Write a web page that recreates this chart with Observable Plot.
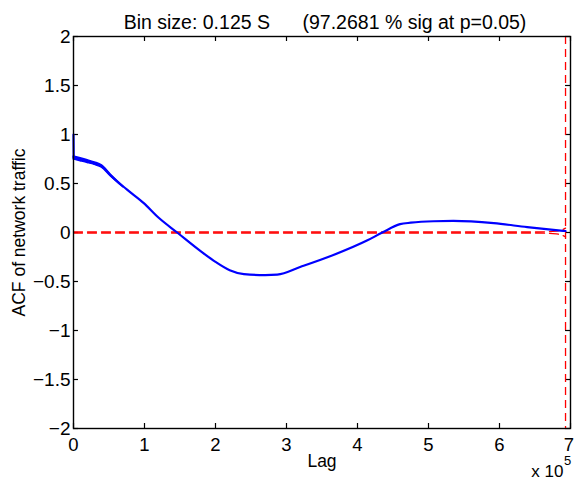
<!DOCTYPE html>
<html><head><meta charset="utf-8">
<script src="https://cdn.jsdelivr.net/npm/d3@7"></script>
<script src="https://cdn.jsdelivr.net/npm/@observablehq/plot@0.6"></script>
<style>body{margin:0;background:#fff} svg{white-space:pre}</style>
</head><body><div id="chart"></div>
<script>
// Lag in units of 10^5
const lag = [0, 0.003, 0.1, 0.2, 0.3, 0.4, 0.52, 0.75, 0.99, 1.2, 1.46, 1.79, 2.0, 2.2, 2.4, 2.7, 2.87, 3.2, 3.66, 4.14, 4.35, 4.6, 4.75, 5.07, 5.35, 5.92, 6.39, 6.86, 6.93];
const acf = [1.0, 0.765, 0.745, 0.725, 0.705, 0.675, 0.585, 0.44, 0.30, 0.15, 0.0, -0.19, -0.30, -0.385, -0.425, -0.435, -0.43, -0.35, -0.23, -0.08, 0.0, 0.085, 0.10, 0.115, 0.118, 0.095, 0.055, 0.02, 0.015];
// noisy thicker band near the start of the ACF
const bandLag = [0.003, 0.1, 0.2, 0.3, 0.4, 0.52, 0.7];
const bandHi = [0.775, 0.758, 0.738, 0.715, 0.685, 0.595, 0.47];
const bandLo = [0.745, 0.728, 0.71, 0.69, 0.662, 0.578, 0.462];
// significance bounds
const boundLag = [0, 6.5, 6.7, 6.8, 6.88, 6.93];
const boundHi = [0.005, 0.005, 0.008, 0.013, 0.025, 0.045];
const boundLo = [-0.005, -0.005, -0.008, -0.013, -0.025, -0.045];
const cutoffLag = [6.93];
const xTicks = [0, 1, 2, 3, 4, 5, 6, 7];
const yTicks = [-2, -1.5, -1, -0.5, 0, 0.5, 1, 1.5, 2];
const titleText = "Bin size: 0.125 S      (97.2681 % sig at p=0.05)";
const xLabel = "Lag";
const yLabel = "ACF of network traffic";
const xExp = "x 10";
const xExpPow = "5";

const series = lag.map((l, i) => ({lag: l, acf: acf[i]}));
const band = bandLag.map((l, i) => ({lag: l, hi: bandHi[i], lo: bandLo[i]}));
const hi = boundLag.map((l, i) => ({lag: l, v: boundHi[i]}));
const lo = boundLag.map((l, i) => ({lag: l, v: boundLo[i]}));
const fmt = d => (d < 0 ? "\u2212" : "") + Math.abs(d);
const xMax = xTicks[xTicks.length - 1];

const chart = Plot.plot({
  width: 574, height: 485,
  marginLeft: 73, marginRight: 4, marginTop: 36, marginBottom: 57,
  style: {fontFamily: "'Liberation Sans', Arial, sans-serif", fontSize: "18px", color: "black", background: "white"},
  x: {domain: [0, 7]},
  y: {domain: [-2, 2]},
  marks: [
    Plot.axisX({ticks: xTicks.slice(0, -1), tickSize: 0, tickPadding: 9, label: null, tickFormat: fmt, fontSize: 18.5}),
    Plot.axisX({ticks: [xMax], tickSize: 0, tickPadding: 9, label: null, tickFormat: fmt, fontSize: 18.5, dx: -1.5}),
    Plot.axisY({ticks: yTicks, tickSize: 0, tickPadding: 3, label: null, tickFormat: fmt, fontSize: 19}),
    Plot.ruleX(xTicks, {x: d => d, y1: -2, y2: -1.949, stroke: "black", strokeWidth: 1.2}),
    Plot.ruleX(xTicks, {x: d => d, y1: 2, y2: 1.949, stroke: "black", strokeWidth: 1.2}),
    Plot.ruleY(yTicks, {y: d => d, x1: 0, x2: 0.07, stroke: "black", strokeWidth: 1.2}),
    Plot.ruleY(yTicks, {y: d => d, x1: 7, x2: 6.93, stroke: "black", strokeWidth: 1.2}),
    Plot.line(hi, {x: "lag", y: "v", stroke: "#ff0000", strokeWidth: 1.3, strokeDasharray: "9,5"}),
    Plot.line(lo, {x: "lag", y: "v", stroke: "#ff0000", strokeWidth: 1.3, strokeDasharray: "9,5"}),
    Plot.ruleX(cutoffLag, {x: d => d, stroke: "#ff0000", strokeWidth: 1.3, strokeDasharray: "8,5"}),
    Plot.areaY(band, {x: "lag", y1: "lo", y2: "hi", fill: "#0000ff", stroke: "#0000ff", strokeWidth: 1.5, curve: "monotone-x"}),
    Plot.line(series, {x: "lag", y: "acf", stroke: "#0000ff", strokeWidth: 2.2, curve: "monotone-x"}),
    Plot.frame({stroke: "black", strokeWidth: 1.4}),
    Plot.text([titleText], {frameAnchor: "top", dx: 3, dy: -21.5, fontSize: 19.5, fill: "black"}),
    Plot.text([xLabel], {frameAnchor: "bottom", dx: 0, dy: 38.5, fontSize: 17.5, fill: "black"}),
    Plot.text([yLabel], {frameAnchor: "left", dx: -54.5, rotate: -90, textAnchor: "middle", fontSize: 17.5, fill: "black"}),
    Plot.text([xExp], {frameAnchor: "bottom-right", dx: -7, dy: 48.3, textAnchor: "end", fontSize: 17, fill: "black"}),
    Plot.text([xExpPow], {frameAnchor: "bottom-right", dx: -6.5, dy: 36.8, textAnchor: "start", fontSize: 13, fill: "black"})
  ]
});
document.getElementById("chart").appendChild(chart);
</script>
</body></html>
